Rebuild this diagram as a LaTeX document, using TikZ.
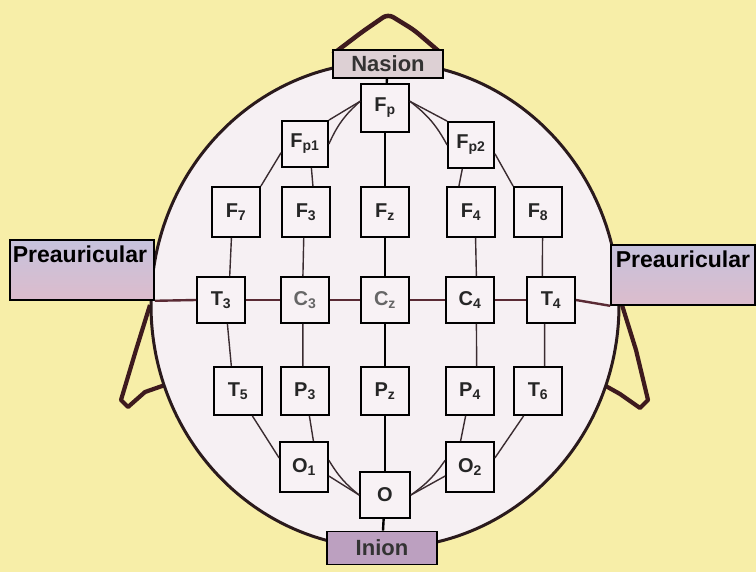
\documentclass[tikz,border=0pt]{standalone}
\usepackage{fontspec}
\setmainfont{Liberation Sans}
\usetikzlibrary{calc}
\definecolor{bgyellow}{HTML}{F7EEA8}
\definecolor{headfill}{HTML}{F6F0F3}
\definecolor{outline}{HTML}{2A1A1C}
\definecolor{nosecol}{HTML}{3E1A1E}
\definecolor{boxfill}{HTML}{F8F2F5}
\definecolor{linkcol}{HTML}{3A2C30}
\definecolor{nasfill}{HTML}{DDD0D4}
\definecolor{inifill}{HTML}{BCA0C0}
\definecolor{pretop}{HTML}{C6C2DC}
\definecolor{prebot}{HTML}{DCBCCC}
\definecolor{hline}{HTML}{5A2A34}
\begin{document}
\begin{tikzpicture}[x=1pt,y=-1pt,
  electrode/.style={draw=black,line width=1.8pt,fill=boxfill,minimum width=48pt,minimum height=48pt,inner sep=0pt,
     font=\fontsize{20}{21}\selectfont\bfseries,text=black!85},
  landmark/.style={draw=black,line width=1.8pt,minimum width=110pt,minimum height=30pt,inner sep=0pt,
     font=\fontsize{22}{23}\selectfont\bfseries,text=black!80},
  prebox/.style={draw=black,line width=1.6pt,top color=pretop,bottom color=prebot,minimum width=144pt,minimum height=60pt,inner sep=0pt},
  pretext/.style={font=\fontsize{23}{24}\selectfont\bfseries,text=black,inner sep=2pt},
  link/.style={draw=linkcol,line width=1.4pt},
  midline/.style={draw=black,line width=2.4pt}]
\useasboundingbox (0,0) rectangle (756,572);
\fill[bgyellow] (0,0) rectangle (756,572);
% ears
\draw[nosecol,line width=4.2pt,line join=round] (150,305) -- (136,350) -- (121,400) -- (128,407) -- (145,392) -- (165,385);
\draw[nosecol,line width=4.2pt,line join=round] (622,305) -- (636,350) -- (648,400) -- (640,408) -- (620,394) -- (604,385);
% nose
\draw[nosecol,line width=4.5pt,line join=round,rounded corners=6pt] (333,54) -- (362,32) -- (388,14) -- (414,30) -- (442,54);
% head
\draw[outline,fill=headfill,line width=3pt] (385,305) ellipse [x radius=234, y radius=243];
% landmark boxes
\node[landmark,fill=nasfill,minimum width=110pt,minimum height=28pt] (nas) at (388,64) {Nasion};
\node[landmark,fill=inifill,minimum width=110pt,minimum height=33pt] (ini) at (382,548) {Inion};
\node[prebox] (pl) at (82,270) {};
\node[pretext,anchor=north] (plt) at ($(pl.north)+(-2,4)$) {Preauricular};
\node[prebox] (pr) at (683,275) {};
\node[pretext,anchor=north] (prt) at ($(pr.north)+(0,4)$) {Preauricular};
% electrodes
\node[electrode] (Fp) at (385,108) {F\textsubscript{p}};
\node[electrode,minimum width=46pt,minimum height=46pt] (Fp1) at (305,144) {F\textsubscript{p1}};
\node[electrode,minimum width=46pt,minimum height=46pt] (Fp2) at (471,145) {F\textsubscript{p2}};
\node[electrode,minimum height=50pt] (F7) at (236,212) {F\textsubscript{7}};
\node[electrode,minimum height=50pt] (F3) at (306,212) {F\textsubscript{3}};
\node[electrode,minimum height=50pt] (Fz) at (385,212) {F\textsubscript{z}};
\node[electrode,minimum height=50pt] (F4) at (471,212) {F\textsubscript{4}};
\node[electrode,minimum height=50pt] (F8) at (538,212) {F\textsubscript{8}};
\node[electrode,minimum height=46pt] (T3) at (221,300) {T\textsubscript{3}};
\node[electrode,minimum height=46pt,text=black!60] (C3) at (305,300) {C\textsubscript{3}};
\node[electrode,minimum height=46pt,text=black!60] (Cz) at (385,300) {C\textsubscript{z}};
\node[electrode,minimum height=46pt] (C4) at (470,300) {C\textsubscript{4}};
\node[electrode,minimum height=46pt] (T4) at (551,300) {T\textsubscript{4}};
\node[electrode] (T5) at (238,391) {T\textsubscript{5}};
\node[electrode] (P3) at (305,391) {P\textsubscript{3}};
\node[electrode] (Pz) at (385,391) {P\textsubscript{z}};
\node[electrode] (P4) at (470,391) {P\textsubscript{4}};
\node[electrode] (T6) at (538,391) {T\textsubscript{6}};
\node[electrode,minimum height=50pt] (O1) at (304,467) {O\textsubscript{1}};
\node[electrode,minimum height=50pt] (O2) at (470,467) {O\textsubscript{2}};
\node[electrode,minimum width=50pt,minimum height=46pt] (Oz) at (385,495) {O};
% midline
\draw[midline] (nas) -- (Fp);
\draw[midline] (Fp) -- (Fz);
\draw[midline] (Fz) -- (Cz);
\draw[midline] (Cz) -- (Pz);
\draw[midline] (Pz) -- (Oz);
\draw[midline] (Oz) -- (ini);
% preauricular line
\draw[hline,line width=2.4pt] (pl.south east) -- (T3.west);
\draw[hline,line width=2.4pt] (T3.east) -- (C3.west);
\draw[hline,line width=2.4pt] (C3.east) -- (Cz.west);
\draw[hline,line width=2.4pt] (Cz.east) -- (C4.west);
\draw[hline,line width=2.4pt] (C4.east) -- (T4.west);
\draw[hline,line width=2.4pt] (T4.east) -- (pr.south west);
% frontal links
\draw[link] (Fp.165) -- (Fp1.north east);
\draw[link] (Fp.165) to[bend right=12] (Fp1.east);
\draw[link] (Fp.15) -- (Fp2.north west);
\draw[link] (Fp.15) to[bend left=12] (Fp2.west);
\draw[link] (Fp1.200) -- (F7.north east);
\draw[link] (Fp1.-75) -- (F3.75);
\draw[link] (Fp2.-110) -- (F4.115);
\draw[link] (Fp2.-20) -- (F8.north west);
% frontal to central
\draw[link] (F7.-100) -- (T3.70);
\draw[link] (F3.-95) -- (C3.95);
\draw[link] (F4.-80) -- (C4.75);
\draw[link] (F8.-80) -- (T4.110);
% central to parietal
\draw[link] (T3.-75) -- (T5.105);
\draw[link] (C3.-95) -- (P3.95);
\draw[link] (C4.-75) -- (P4.75);
\draw[link] (T4.-105) -- (T6.75);
% parietal to occipital
\draw[link] (T5.-60) -- (O1.160);
\draw[link] (P3.-80) -- (O1.70);
\draw[link] (P4.-100) -- (O2.110);
\draw[link] (T6.-120) -- (O2.20);
\draw[link] (O1.15) to[bend right=10] (Oz.west);
\draw[link] (O1.-20) -- (Oz.west);
\draw[link] (O2.165) to[bend left=10] (Oz.east);
\draw[link] (O2.-160) -- (Oz.east);
\end{tikzpicture}
\end{document}
